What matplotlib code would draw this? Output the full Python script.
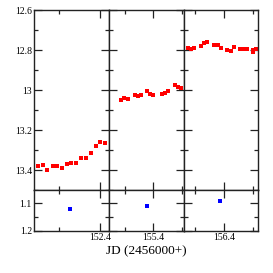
import matplotlib
matplotlib.use('Agg')
import matplotlib.pyplot as plt
from matplotlib.ticker import FixedLocator, FuncFormatter

plt.rcParams['font.family'] = ['Liberation Serif', 'DejaVu Serif']

# night 1
jd1 = [152.098, 152.122, 152.143, 152.169, 152.192, 152.215, 152.238, 152.260,
       152.283, 152.307, 152.332, 152.355, 152.379, 152.401, 152.424]
mag1 = [13.380, 13.377, 13.400, 13.380, 13.380, 13.389, 13.369, 13.365,
        13.365, 13.340, 13.339, 13.317, 13.279, 13.259, 13.267]
# night 2
jd2 = [155.175, 155.196, 155.220, 155.269, 155.290, 155.311, 155.358, 155.379,
       155.400, 155.459, 155.482, 155.503, 155.551, 155.572, 155.593]
mag2 = [13.048, 13.042, 13.045, 13.023, 13.030, 13.027, 13.007, 13.020,
        13.027, 13.022, 13.013, 13.005, 12.975, 12.985, 12.992]
# night 3
jd3 = [156.148, 156.170, 156.193, 156.237, 156.260, 156.283, 156.331, 156.354,
       156.375, 156.421, 156.443, 156.467, 156.510, 156.533, 156.554, 156.598,
       156.598, 156.621]
mag3 = [12.789, 12.797, 12.792, 12.780, 12.766, 12.761, 12.777, 12.777,
        12.789, 12.801, 12.803, 12.787, 12.797, 12.797, 12.795, 12.800,
        12.809, 12.794]

# lower panels (one point per night)
jd_low = [152.254, 155.353, 156.368]
val_low = [1.120, 1.110, 1.092]
err_low = [0.002, 0.002, 0.004]

jds = [jd1, jd2, jd3]
mags = [mag1, mag2, mag3]
xlims = [(152.078, 152.444), (155.088, 155.616), (156.122, 156.632)]
xmajor = [152.4, 155.4, 156.4]

fig = plt.figure(figsize=(2.73, 2.73), dpi=100)
W = 273.0
edges = [34, 109, 184, 258]
fmt = FuncFormatter(lambda v, p: f'{v:g}')

for i in range(3):
    x0 = edges[i] / W
    w = (edges[i + 1] - edges[i]) / W
    ax = fig.add_axes([x0, 1 - 190 / W, w, 180 / W])
    axb = fig.add_axes([x0, 1 - 231 / W, w, 41 / W])

    ax.errorbar(jds[i], mags[i], yerr=0.003, fmt='s', color='red',
                ms=2.5, mew=0, elinewidth=1.3, capsize=0)
    ax.set_ylim(13.5, 12.6)
    ax.yaxis.set_major_locator(FixedLocator([12.6, 12.8, 13.0, 13.2, 13.4]))
    ax.yaxis.set_minor_locator(FixedLocator([12.7, 12.9, 13.1, 13.3, 13.5]))

    axb.errorbar([jd_low[i]], [val_low[i]], yerr=[err_low[i]], fmt='s',
                 color='blue', ms=2.6, mew=0, elinewidth=1.6, capsize=0)
    axb.set_ylim(1.2, 1.052)
    axb.yaxis.set_major_locator(FixedLocator([1.1, 1.2]))
    axb.yaxis.set_minor_locator(FixedLocator([1.15]))

    for a in (ax, axb):
        a.set_xlim(*xlims[i])
        a.xaxis.set_major_locator(FixedLocator([xmajor[i]]))
        a.xaxis.set_minor_locator(FixedLocator([xmajor[i] - 0.2, xmajor[i] + 0.2]))
        a.xaxis.set_major_formatter(fmt)
        a.yaxis.set_major_formatter(fmt)
        a.tick_params(which='both', direction='in', top=True, right=True,
                      labelsize=7, pad=1.5, color='#222222', width=0.9)
        a.tick_params(which='major', length=6)
        a.tick_params(which='minor', length=3)
        for s in a.spines.values():
            s.set_linewidth(1.0)
            s.set_color('#222222')
        if i > 0:
            a.tick_params(labelleft=False)
    ax.tick_params(labelbottom=False)

fig.text(146 / W, 1 - 251 / W, 'JD (2456000+)', ha='center', va='center',
         fontsize=9.5)

fig.savefig('out.png', dpi=100)
